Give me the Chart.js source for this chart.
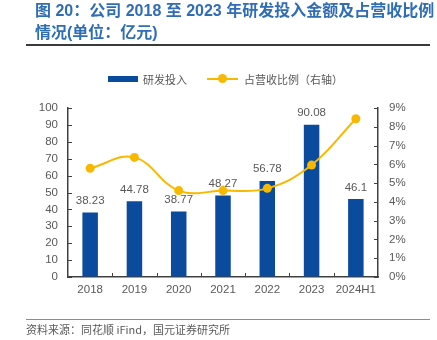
<!DOCTYPE html>
<html>
<head>
<meta charset="utf-8">
<script src="https://cdn.jsdelivr.net/npm/chart.js@4.4.1/dist/chart.umd.min.js"></script>
<style>
  html, body { margin: 0; padding: 0; background: #fff; }
  #wrap { position: relative; width: 437px; height: 340px; overflow: hidden;
    font-family: "Liberation Sans", "Noto Sans CJK SC", sans-serif; }
  #chart { position: absolute; left: 0; top: 0; }
  .title { position: absolute; left: 35px; top: 0; color: #2f6db5; font-weight: bold;
    font-size: 16px; line-height: 22px; white-space: nowrap; }
  .rule { position: absolute; left: 26px; width: 404px; }
  .legend { position: absolute; top: 71px; left: 108px; height: 16px; display: flex;
    align-items: center; color: #595959; font-size: 11px; font-family: "Noto Sans CJK SC", sans-serif; }
  .sw-bar { width: 30px; height: 6px; background: #0b4b9e; margin-right: 5px; }
  .sw-line { position: relative; width: 31px; height: 2px; background: #f9b800; margin: 0 6px 0 20px; }
  .sw-line::after { content: ""; position: absolute; left: 11px; top: -4px; width: 9px; height: 9px;
    border-radius: 50%; background: #f9b800; }
  .source { position: absolute; left: 26px; top: 321px; font-size: 11px; color: #595959;
    font-family: "Noto Sans CJK SC", sans-serif; white-space: nowrap; }
</style>
</head>
<body>
<div id="wrap">
  <canvas id="chart" width="437" height="340"></canvas>
  <div class="title">图 20：公司 2018 至 2023 年研发投入金额及占营收比例<br>情况(单位：亿元)</div>
  <div class="rule" style="top:44px;height:1.5px;background:#3a3a3a"></div>
  <div class="legend">
    <span class="sw-bar"></span><span>研发投入</span>
    <span class="sw-line"></span><span>占营收比例（右轴）</span>
  </div>
  <div class="rule" style="top:318.5px;height:1.5px;background:#8c8c8c"></div>
  <div class="source">资料来源：同花顺 iFind，国元证券研究所</div>
</div>
<script>
const years = ['2018', '2019', '2020', '2021', '2022', '2023', '2024H1'];
const rdSpend = [38.23, 44.78, 38.77, 48.27, 56.78, 90.08, 46.1];     // 亿元
const revenueShare = [5.79, 6.37, 4.6, 4.6, 4.72, 5.96, 8.43];          // %

const axisColor = '#404040';
const labelColor = '#595959';
const tickFont = { family: 'Liberation Sans', size: 11.5 };

// short inward tick marks on all three axes
const innerTicks = {
  id: 'innerTicks',
  afterDraw(chart) {
    const { ctx, scales: { x, y, y1 } } = chart;
    ctx.save();
    ctx.strokeStyle = axisColor;
    ctx.lineWidth = 1;
    y.ticks.forEach((t, i) => {
      const py = Math.round(y.getPixelForTick(i)) + 0.5;
      ctx.beginPath(); ctx.moveTo(y.right, py); ctx.lineTo(y.right + 4, py); ctx.stroke();
    });
    y1.ticks.forEach((t, i) => {
      const py = Math.round(y1.getPixelForTick(i)) + 0.5;
      ctx.beginPath(); ctx.moveTo(y1.left, py); ctx.lineTo(y1.left - 4, py); ctx.stroke();
    });
    for (let i = 0; i < years.length - 1; i++) {
      const px = Math.round(x.getPixelForValue(i + 0.5)) + 0.5;
      ctx.beginPath(); ctx.moveTo(px, x.top); ctx.lineTo(px, x.top - 4); ctx.stroke();
    }
    ctx.restore();
  }
};

// value labels above the bars, drawn before the line goes on top
const barValues = {
  id: 'barValues',
  afterDatasetDraw(chart, args) {
    if (args.index !== 0) return;
    const { ctx } = chart;
    ctx.save();
    ctx.fillStyle = labelColor;
    ctx.font = '11.5px "Liberation Sans"';
    ctx.textAlign = 'center';
    ctx.textBaseline = 'bottom';
    args.meta.data.forEach((bar, i) => {
      ctx.fillText(String(rdSpend[i]), bar.x, bar.y - 6);
    });
    ctx.restore();
  }
};

new Chart(document.getElementById('chart'), {
  type: 'bar',
  data: {
    labels: years,
    datasets: [{
      label: '研发投入',
      data: rdSpend,
      backgroundColor: '#0b4b9e',
      barPercentage: 0.35,
      categoryPercentage: 1,
      yAxisID: 'y',
      order: 1,
    }, {
      type: 'line',
      label: '占营收比例（右轴）',
      data: revenueShare,
      borderColor: '#f9b800',
      backgroundColor: '#f9b800',
      borderWidth: 2,
      pointRadius: 4.5,
      pointBorderWidth: 0,
      tension: 0.4,
      yAxisID: 'y1',
      order: 0,
    }],
  },
  options: {
    responsive: false,
    animation: false,
    layout: { padding: { top: 108, left: 0, right: 0, bottom: 0 } },
    plugins: { legend: { display: false }, tooltip: { enabled: false } },
    scales: {
      x: {
        grid: { drawOnChartArea: false, drawTicks: false },
        border: { color: axisColor, width: 1.5 },
        ticks: { color: labelColor, font: tickFont, padding: 6, maxRotation: 0 },
        afterFit(s) { s.height = 63; },
      },
      y: {
        position: 'left',
        min: 0, max: 100,
        grid: { drawOnChartArea: false, drawTicks: false },
        border: { color: axisColor, width: 1.5 },
        ticks: { stepSize: 10, color: labelColor, font: tickFont, padding: 10 },
        afterFit(s) { s.width = 68; },
      },
      y1: {
        position: 'right',
        min: 0, max: 9,
        grid: { drawOnChartArea: false, drawTicks: false },
        border: { color: axisColor, width: 1.5 },
        ticks: { stepSize: 1, color: labelColor, font: tickFont, padding: 11, callback: v => v + '%' },
        afterFit(s) { s.width = 59; },
      },
    },
  },
  plugins: [innerTicks, barValues],
});
</script>
</body>
</html>
